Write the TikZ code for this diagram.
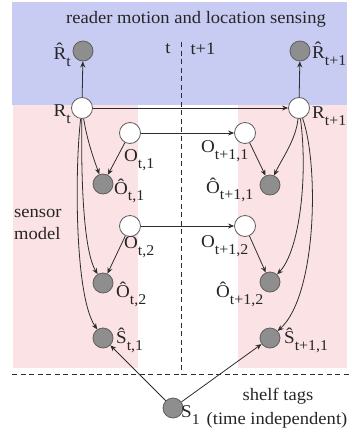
\documentclass[tikz,border=0pt]{standalone}
\usepackage{fontspec}
\setmainfont{Liberation Serif}[FakeStretch=1.06]
\usetikzlibrary{arrows.meta}
\definecolor{bgblue}{RGB}{200,204,242}
\definecolor{bgpink}{RGB}{251,226,228}
\definecolor{nodegray}{RGB}{142,142,142}
\definecolor{edgegray}{RGB}{95,95,95}
\definecolor{linecol}{RGB}{45,45,45}
\newcommand{\sbs}[1]{\raisebox{-0.38em}{\fontsize{15}{15}\selectfont #1}}
\tikzset{
  obs/.style={circle, draw=edgegray, fill=nodegray, minimum size=20pt, inner sep=0pt, line width=0.8pt},
  hid/.style={circle, draw=edgegray, fill=white, minimum size=21pt, inner sep=0pt, line width=0.8pt},
  lbl/.style={inner sep=0pt, font=\fontsize{18}{20}\selectfont, text=black!85},
  txt/.style={inner sep=0pt, font=\fontsize{17.5}{22}\selectfont, text=black!85, align=center},
  arr/.style={draw=linecol, line width=0.8pt, -{Stealth[length=6pt,width=5pt]}},
  dsh/.style={draw=linecol, line width=0.8pt, dash pattern=on 5pt off 3.5pt}
}
\begin{document}
\begin{tikzpicture}[x=1pt,y=-1pt]
\useasboundingbox (0,0) rectangle (352,439);
% backgrounds
\fill[bgblue] (12,2) rectangle (347,105);
\fill[bgpink] (13,105) rectangle (138,368);
\fill[bgpink] (238,105) rectangle (347,368);
% dashed separators
\coordinate (vtop) at (181,42);
\coordinate (vbot) at (181,374);
\coordinate (hl) at (12,374);
\coordinate (hr) at (352,374);
\draw[dsh] (vtop) -- (vbot);
\draw[dsh] (hl) -- (hr);
% texts
\node[txt] (title) at (196,19) {reader motion and location sensing};
\node[txt] (tl) at (168,49) {t};
\node[txt] (tpl) at (203,49) {t+1};
\node[txt, align=left, anchor=west] (sm) at (14,224) {sensor\\model};
\node[txt] (shelf) at (278,396) {shelf tags};
\node[txt] (indep) at (277,420) {(time independent)};
% nodes
\node[obs] (Rht) at (83,51) {};
\node[obs] (Rht1) at (300,51) {};
\node[hid] (Rt) at (82,108) {};
\node[hid] (Rt1) at (299,108) {};
\node[hid] (Ot1) at (130,133) {};
\node[hid] (Ot11) at (245,133) {};
\node[obs] (Oht1) at (103,184) {};
\node[obs] (Oht11) at (270,185) {};
\node[hid] (Ot2) at (130,226) {};
\node[hid] (Ot12) at (245,226) {};
\node[obs] (Oht2) at (103,283) {};
\node[obs] (Oht12) at (270,282) {};
\node[obs] (Sht1) at (103,338) {};
\node[obs] (Sht11) at (270,338) {};
\node[obs] (S1) at (173,408) {};
% labels
\node[lbl, anchor=east] (lRht) at (71,55) {R̂\sbs{t}};
\node[lbl, anchor=west] (lRht1) at (312,54) {R̂\sbs{t+1}};
\node[lbl, anchor=east] (lRt) at (71,114) {R\sbs{t}};
\node[lbl, anchor=west] (lRt1) at (312,116) {R\sbs{t+1}};
\node[lbl, anchor=west] (lOt1) at (124,160) {O\sbs{t,1}};
\node[lbl, anchor=west] (lOht1) at (114,191) {Ô\sbs{t,1}};
\node[lbl, anchor=west] (lOt2) at (124,247) {O\sbs{t,2}};
\node[lbl, anchor=west] (lOht2) at (116,294) {Ô\sbs{t,2}};
\node[lbl, anchor=west] (lSht1) at (116,340) {Ŝ\sbs{t,1}};
\node[lbl, anchor=west] (lOt11) at (201,151) {O\sbs{t+1,1}};
\node[lbl, anchor=west] (lOht11) at (206,190) {Ô\sbs{t+1,1}};
\node[lbl, anchor=west] (lOt12) at (201,246) {O\sbs{t+1,2}};
\node[lbl, anchor=west] (lOht12) at (216,294) {Ô\sbs{t+1,2}};
\node[lbl, anchor=west] (lSht11) at (284,340) {Ŝ\sbs{t+1,1}};
\node[lbl, anchor=west] (lS1) at (181,415) {S\sbs{1}};
% edges
\draw[arr] (Rt) -- (Rht);
\draw[arr] (Rt1) -- (Rht1);
\draw[arr] (Rt) -- (Rt1);
\draw[arr] (Ot1) -- (Ot11);
\draw[arr] (Ot2) -- (Ot12);
\draw[arr] (Ot1) -- (Oht1);
\draw[arr] (Ot2) -- (Oht2);
\draw[arr] (Ot11) -- (Oht11);
\draw[arr] (Ot12) -- (Oht12);
\draw[arr] (Rt) .. controls (87,140) and (94,160) .. (Oht1);
\draw[arr] (Rt) .. controls (81,175) and (83,250) .. (Oht2);
\draw[arr] (Rt) .. controls (75,165) and (74,295) .. (Sht1);
\draw[arr] (Rt1) .. controls (296,140) and (281,160) .. (Oht11);
\draw[arr] (Rt1) .. controls (308,175) and (300,250) .. (Oht12);
\draw[arr] (Rt1) .. controls (319,165) and (317,295) .. (Sht11);
\draw[arr] (S1) -- (Sht1);
\draw[arr] (S1) -- (Sht11);
\end{tikzpicture}
\end{document}
